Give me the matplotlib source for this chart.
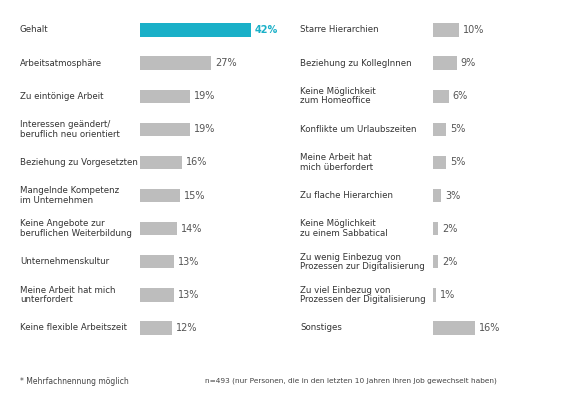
import matplotlib
matplotlib.use("Agg")
import matplotlib.pyplot as plt
from matplotlib.transforms import blended_transform_factory as btf

left_labels = ["Gehalt", "Arbeitsatmosphäre", "Zu eintönige Arbeit",
               "Interessen geändert/\nberuflich neu orientiert", "Beziehung zu Vorgesetzten",
               "Mangelnde Kompetenz\nim Unternehmen", "Keine Angebote zur\nberuflichen Weiterbildung",
               "Unternehmenskultur", "Meine Arbeit hat mich\nunterfordert", "Keine flexible Arbeitszeit"]
left_values = [42, 27, 19, 19, 16, 15, 14, 13, 13, 12]
right_labels = ["Starre Hierarchien", "Beziehung zu KollegInnen", "Keine Möglichkeit\nzum Homeoffice",
                "Konflikte um Urlaubszeiten", "Meine Arbeit hat\nmich überfordert", "Zu flache Hierarchien",
                "Keine Möglichkeit\nzu einem Sabbatical", "Zu wenig Einbezug von\nProzessen zur Digitalisierung",
                "Zu viel Einbezug von\nProzessen der Digitalisierung", "Sonstiges"]
right_values = [10, 9, 6, 5, 5, 3, 2, 2, 1, 16]

W, H = 563, 417
fig = plt.figure(figsize=(W/100, H/100), dpi=100)
TEAL, GRAY, TXT = "#1ab0c8", "#bdbdbd", "#333333"
pxper = 2.64
top, bot = 30, 328
step = (bot - top) / 9

def column(x0, labx, labels, values, hl):
    width = 50 * pxper
    ax = fig.add_axes([x0/W, 1-(bot+step/2)/H, width/W, (bot-top+step)/H])
    ax.set_xlim(0, 50); ax.set_ylim(9.5, -0.5); ax.axis("off")
    cols = [TEAL if i == hl else GRAY for i in range(len(values))]
    ax.barh(range(len(values)), values, height=0.4, color=cols)
    tr = btf(fig.transFigure, ax.transData)
    for i, (l, v) in enumerate(zip(labels, values)):
        ax.text(v + 1.5, i, f"{v}%", va="center", ha="left", fontsize=7,
                color=TEAL if i == hl else "#555555",
                fontweight="bold" if i == hl else "normal")
        ax.text(labx/W, i, l, transform=tr, va="center", ha="left", fontsize=6.2, color=TXT, linespacing=1.05)

column(140, 20, left_labels, left_values, 0)
column(433, 300, right_labels, right_values, None)
fig.text(20/W, 1-381/H, "* Mehrfachnennung möglich", fontsize=5.5, color="#444444", va="center")
fig.text(205/W, 1-381/H, "n=493 (nur Personen, die in den letzten 10 Jahren ihren Job gewechselt haben)",
         fontsize=5.3, color="#444444", va="center")
fig.savefig("out.png", dpi=100, facecolor="white")
